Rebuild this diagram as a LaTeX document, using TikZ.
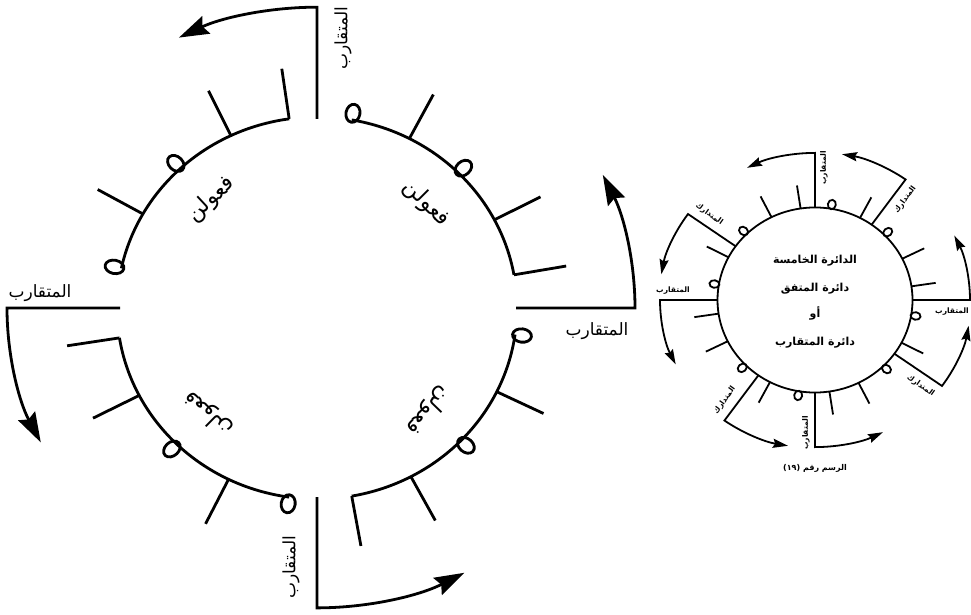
\documentclass[tikz,border=0pt]{standalone}
\usepackage{fontspec}
\setmainfont{DejaVu Sans}
\newfontfamily\arabicfont[Script=Arabic]{DejaVu Sans}
\TeXXeTstate=1
\usetikzlibrary{arrows.meta}
\newcommand\AR[1]{\beginR #1\endR}
\begin{document}
\begin{tikzpicture}[x=1pt,y=1pt,
  bigline/.style={line width=2.8pt, line join=miter},
  bigarrow/.style={-{Stealth[length=30pt,width=19pt,inset=4pt]}},
  smallline/.style={line width=1.8pt, line join=miter},
  smallarrow/.style={-{Stealth[length=15pt,width=9pt,inset=2pt]}},
  biglabel/.style={font=\arabicfont\fontsize{17}{19}\selectfont, inner sep=0pt},
  footlabel/.style={font=\arabicfont\fontsize{22}{24}\selectfont, inner sep=0pt},
  smalllabel/.style={font=\arabicfont\bfseries\fontsize{7.5}{8.5}\selectfont, inner sep=0pt},
  centertext/.style={font=\arabicfont\bfseries\fontsize{11}{13}\selectfont, inner sep=0pt},
]
\useasboundingbox (0,0) rectangle (971,614);

% ---------------- big circle ----------------
\begin{scope}[shift={(317,306)}, yscale=0.955]
\foreach \s/\e/\n in {10/80/q1, 98/168/q2, 189/262/q3, 280/352/q4}{
  \pgfmathsetmacro\d{(\e-\s)/4}
  \pgfmathsetmacro\aA{\s+\d}
  \pgfmathsetmacro\aB{\s+2*\d}
  \pgfmathsetmacro\aC{\s+3*\d}
  \pgfmathsetmacro\m{(\s+\e)/2}
  \pgfmathsetmacro\rot{\m-90}
  \draw[bigline] (\s:200) arc[start angle=\s, end angle=\e, radius=200];
  \draw[bigline] (\s:200) -- (\s:253);
  \draw[bigline] (\aA:200) -- (\aA:252);
  \draw[bigline] (\aC:200) -- (\aC:252);
  \draw[bigline, rotate around={\aB:(\aB:207)}] (\aB:207) ellipse[x radius=9.5, y radius=7];
  \draw[bigline, rotate around={\e:(\e:207)}] (\e:207) ellipse[x radius=9.5, y radius=7];
  \node[footlabel, rotate=\rot] (foot-\n) at (\m:155) {\AR{فعولن}};
}
\draw[bigline, bigarrow] (90:198) -- (90:315) arc[start angle=90, end angle=116, radius=315];
\draw[bigline, bigarrow] (0:199) -- (0:318) arc[start angle=0, end angle=26, radius=318];
\draw[bigline, bigarrow] (180:197) -- (180:310) arc[start angle=180, end angle=207, radius=310];
\draw[bigline, bigarrow] (270:198) -- (270:314) arc[start angle=270, end angle=298, radius=314];
\end{scope}

\node[biglabel, rotate=90] (mq-top) at (343,576) {\AR{المتقارب}};
\node[biglabel] (mq-right) at (597,283) {\AR{المتقارب}};
\node[biglabel] (mq-left) at (40,321) {\AR{المتقارب}};
\node[biglabel, rotate=90] (mq-bottom) at (291,47) {\AR{المتقارب}};

% ---------------- small circle ----------------
\begin{scope}[shift={(815,314)}, yscale=0.949]
\draw[smallline] (0,0) circle[radius=97.5];
\foreach \b/\lr in {0/54.5, 90/-35.5, 180/54.5, 270/-35.5}{
  \pgfmathsetmacro\tA{\b+8.5}
  \pgfmathsetmacro\tB{\b+26.5}
  \pgfmathsetmacro\oA{\b+44.5}
  \pgfmathsetmacro\tC{\b+62.5}
  \pgfmathsetmacro\oB{\b+80.5}
  \pgfmathsetmacro\md{\b+54.5}
  \pgfmathsetmacro\mdE{\b+80}
  \pgfmathsetmacro\mqE{\b+26}
  \pgfmathsetmacro\lab{\b+49.5}
  \draw[smallline] (\tA:97.5) -- (\tA:122);
  \draw[smallline] (\tB:97.5) -- (\tB:122);
  \draw[smallline] (\tC:97.5) -- (\tC:122);
  \draw[smallline, rotate around={\oA:(\oA:102)}] (\oA:102) ellipse[x radius=5, y radius=4];
  \draw[smallline, rotate around={\oB:(\oB:102)}] (\oB:102) ellipse[x radius=5, y radius=4];
  \draw[smallline, smallarrow] (\b:97.5) -- (\b:155) arc[start angle=\b, end angle=\mqE, radius=155];
  \draw[smallline, smallarrow] (\md:97.5) -- (\md:156) arc[start angle=\md, end angle=\mdE, radius=156];
  \node[smalllabel, rotate=\lr] (md-\b) at (\lab:139) {\AR{المتدارك}};
}
\end{scope}

\node[smalllabel, rotate=90] (smq-top) at (824,446) {\AR{المتقارب}};
\node[smalllabel] (smq-right) at (952,302) {\AR{المتقارب}};
\node[smalllabel] (smq-left) at (673,323) {\AR{المتقارب}};
\node[smalllabel, rotate=90] (smq-bottom) at (806,181) {\AR{المتقارب}};

\node[centertext] (c1) at (815,353) {\AR{الدائرة الخامسة}};
\node[centertext] (c2) at (815,325) {\AR{دائرة المتفق}};
\node[centertext] (c3) at (815,301) {\AR{أو}};
\node[centertext] (c4) at (815,271) {\AR{دائرة المتقارب}};
\node[smalllabel, font=\arabicfont\bfseries\fontsize{8}{9}\selectfont] (cap) at (815,146) {\AR{الرسم رقم \beginL(١٩)\endL}};
\end{tikzpicture}
\end{document}
